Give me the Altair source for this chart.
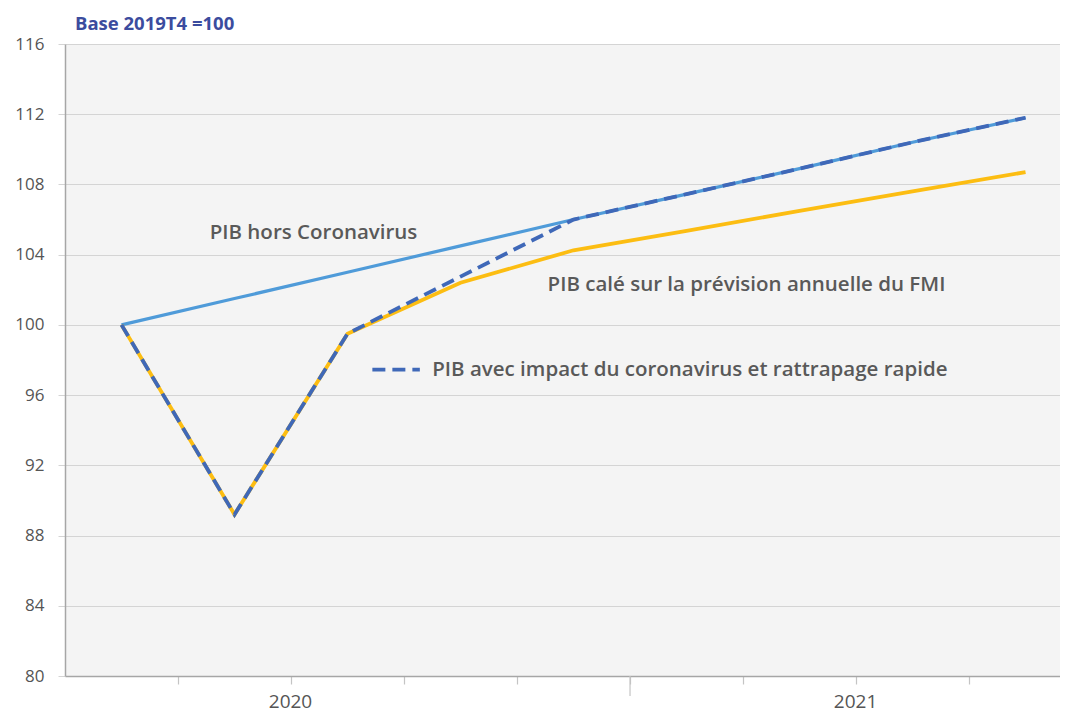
import altair as alt
import pandas as pd

quarters = ["2019T4", "2020T1", "2020T2", "2020T3", "2020T4", "2021T1", "2021T2", "2021T3", "2021T4"]
idx = list(range(len(quarters)))
pib_hors = [100.0, 101.5, 103.0, 104.5, 106.0, 107.45, 108.9, 110.4, 111.8]
pib_fmi = [100.0, 89.2, 99.5, 102.4, 104.25, 105.35, 106.5, 107.6, 108.7]
pib_rattrapage = [100.0, 89.2, 99.5, 102.75, 106.0, 107.45, 108.9, 110.4, 111.8]

year_labels = ["2020", "2021"]
year_label_pos = [1.5, 6.5]
tick_pos = [0.5, 1.5, 2.5, 3.5, 4.5, 5.5, 6.5, 7.5]
year_sep = [4.5]

ann_text = ["PIB hors Coronavirus", "PIB calé sur la prévision annuelle du FMI",
            "PIB avec impact du coronavirus et rattrapage rapide"]
ann_x = [0.78, 3.77, 2.75]
ann_y = [105.25, 102.3, 97.45]
legend_dash_x = [2.22, 2.64]
legend_dash_y = [97.45, 97.45]
title_text = ["Base 2019T4 =100"]

FONT = "Open Sans"
W, H = 995, 632
XDOM = [-0.5, 8.305]

df = pd.DataFrame({"q": idx, "quarter": quarters, "hors": pib_hors,
                   "fmi": pib_fmi, "ratt": pib_rattrapage})
ann = pd.DataFrame({"x": ann_x, "y": ann_y, "t": ann_text})
leg = pd.DataFrame({"x": legend_dash_x, "y": legend_dash_y})
sep = pd.DataFrame({"x": year_sep})
ttl = pd.DataFrame({"t": title_text})

label_expr = " : ".join(
    [f"datum.value == {p} ? '{l}'" for p, l in zip(year_label_pos, year_labels)]) + " : ''"

xscale = alt.Scale(domain=XDOM, nice=False, zero=False)
yscale = alt.Scale(domain=[80, 116], nice=False, zero=False)

xaxis = alt.Axis(values=tick_pos, labelExpr=label_expr, title=None, grid=False,
                 tickSize=8, tickColor="#c4c4c4", tickWidth=1.2,
                 domainColor="#a6a6a6", domainWidth=1.5,
                 labelFont=FONT, labelFontSize=19, labelColor="#555555",
                 labelPadding=8, labelAngle=0, labelOffset=-1)
yaxis = alt.Axis(values=list(range(80, 117, 4)), title=None, grid=True,
                 gridColor="#d4d4d4", gridWidth=1.2,
                 tickSize=7, tickColor="#d4d4d4",
                 domainColor="#a6a6a6", domainWidth=1.5,
                 labelFont=FONT, labelFontSize=17, labelColor="#555555",
                 labelPadding=14)

base = alt.Chart(df)

line_hors = base.mark_line(color="#4f9bd9", strokeWidth=3.2).encode(
    x=alt.X("q:Q", scale=xscale, axis=xaxis),
    y=alt.Y("hors:Q", scale=yscale, axis=yaxis),
)
line_fmi = base.mark_line(color="#fcbd12", strokeWidth=3.8).encode(
    x=alt.X("q:Q", scale=xscale), y=alt.Y("fmi:Q", scale=yscale))
line_ratt = base.mark_line(color="#3f68b8", strokeWidth=3.8, strokeDash=[13, 7]).encode(
    x=alt.X("q:Q", scale=xscale), y=alt.Y("ratt:Q", scale=yscale))

leg_line = alt.Chart(leg).mark_line(color="#3f68b8", strokeWidth=3.8, strokeDash=[13, 7]).encode(
    x=alt.X("x:Q", scale=xscale), y=alt.Y("y:Q", scale=yscale))

texts = alt.Chart(ann).mark_text(align="left", baseline="middle", font=FONT,
                                 fontSize=20.5, fontWeight=600, color="#595959").encode(
    x=alt.X("x:Q", scale=xscale), y=alt.Y("y:Q", scale=yscale), text="t:N")

title = alt.Chart(ttl).mark_text(align="left", baseline="middle", font=FONT,
                                 fontSize=18.5, fontWeight="bold", color="#3b4c9e").encode(
    x=alt.value(10), y=alt.value(-20), text="t:N")

sep_tick = alt.Chart(sep).mark_rule(color="#c4c4c4", strokeWidth=1.2).encode(
    x=alt.X("x:Q", scale=xscale), y=alt.value(H), y2=alt.value(H + 20))

chart = alt.layer(line_hors, line_fmi, line_ratt, leg_line, texts, title, sep_tick).properties(
    width=W, height=H,
    autosize=alt.AutoSizeParams(type="none"),
    padding={"left": 57, "top": 36, "right": 0, "bottom": 37},
    background="white",
).configure_view(fill="#f4f4f4", strokeOpacity=0)

chart.save("out.html", embed_options={"renderer": "svg", "actions": False})
